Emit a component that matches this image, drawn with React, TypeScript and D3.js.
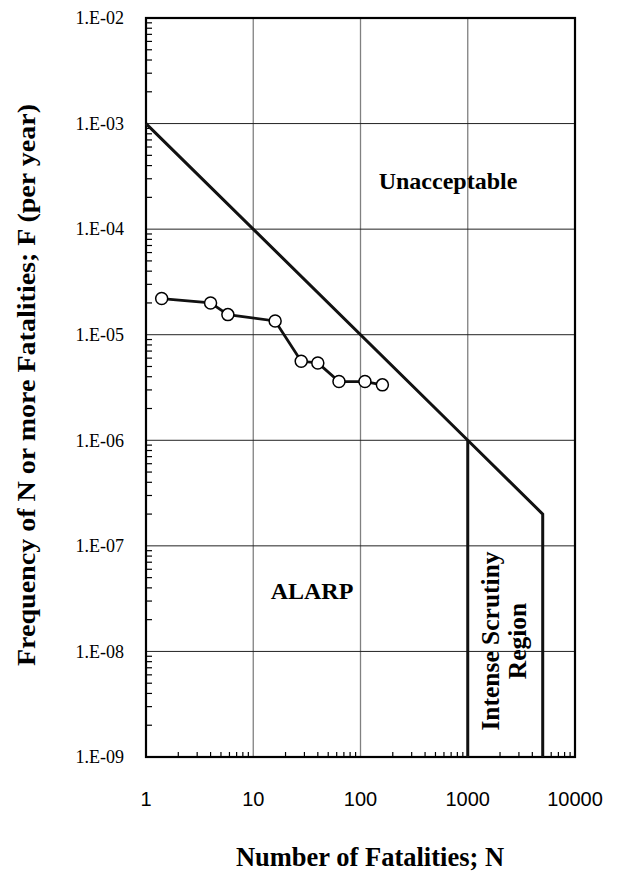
import React from "react";
import * as d3 from "d3";

// F-N curve data (N, F)
const fatalities = [1.4, 4, 5.8, 16, 28, 40, 63, 110, 160];
const frequency = [2.2e-5, 2.0e-5, 1.55e-5, 1.35e-5, 5.6e-6, 5.4e-6, 3.6e-6, 3.6e-6, 3.35e-6];

// criterion line
const critN = [1, 1000, 5000, 5000];
const critF = [1e-3, 1e-6, 2e-7, 1e-9];
const scrutinyN = [1000, 1000];
const scrutinyF = [1e-6, 1e-9];

const xTicks = [1, 10, 100, 1000, 10000];
const yTicks = [1e-2, 1e-3, 1e-4, 1e-5, 1e-6, 1e-7, 1e-8, 1e-9];
const yTickLabels = ["1.E-02", "1.E-03", "1.E-04", "1.E-05", "1.E-06", "1.E-07", "1.E-08", "1.E-09"];

const W = 619;
const H = 871;
const margin = { top: 18, right: 44, bottom: 114, left: 146 };

export default function App() {
  const x = d3.scaleLog().domain([1, 10000]).range([margin.left, W - margin.right]);
  const y = d3.scaleLog().domain([1e-9, 1e-2]).range([H - margin.bottom, margin.top]);
  const x0 = x.range()[0], x1 = x.range()[1];
  const y0 = y.range()[0], y1 = y.range()[1];

  const minorX: number[] = [];
  for (let d = 1; d < 10000; d *= 10) for (let k = 2; k <= 9; k++) minorX.push(d * k);
  const minorY: number[] = [];
  for (let d = 1e-9; d < 1e-2 * 0.99; d *= 10) for (let k = 2; k <= 9; k++) minorY.push(d * k);

  const line = d3.line<[number, number]>().x(d => x(d[0])).y(d => y(d[1]));
  const dataPts: [number, number][] = fatalities.map((n, i) => [n, frequency[i]]);
  const critPts: [number, number][] = critN.map((n, i) => [n, critF[i]]);
  const scrPts: [number, number][] = scrutinyN.map((n, i) => [n, scrutinyF[i]]);

  const serif = "'Liberation Serif', 'Times New Roman', serif";
  const sans = "'Liberation Sans', Arial, sans-serif";

  return (
    <svg width={W} height={H} style={{ position: "absolute", left: 0, top: 0, background: "#fff" }}>
      {/* grid */}
      {xTicks.slice(1, -1).map(t => (
        <line key={"gx" + t} x1={x(t)} x2={x(t)} y1={y1} y2={y0} stroke="#808080" strokeWidth={1.3} />
      ))}
      {yTicks.slice(1, -1).map(t => (
        <line key={"gy" + t} x1={x0} x2={x1} y1={y(t)} y2={y(t)} stroke="#222" strokeWidth={1} />
      ))}
      {/* minor ticks */}
      {minorX.map(t => (
        <line key={"mx" + t} x1={x(t)} x2={x(t)} y1={y0} y2={y0 - 5} stroke="#000" strokeWidth={1.2} />
      ))}
      {minorY.map(t => (
        <line key={"my" + t} x1={x0} x2={x0 + 6} y1={y(t)} y2={y(t)} stroke="#000" strokeWidth={1.2} />
      ))}
      {/* frame */}
      <rect x={x0} y={y1} width={x1 - x0} height={y0 - y1} fill="none" stroke="#000" strokeWidth={2.2} />

      {/* criterion lines */}
      <path d={line(critPts) || ""} fill="none" stroke="#111" strokeWidth={3} />
      <path d={line(scrPts) || ""} fill="none" stroke="#111" strokeWidth={3} />

      {/* data */}
      <path d={line(dataPts) || ""} fill="none" stroke="#111" strokeWidth={2.8} />
      {dataPts.map((d, i) => (
        <circle key={"c" + i} cx={x(d[0])} cy={y(d[1])} r={6} fill="#fff" stroke="#000" strokeWidth={1.5} />
      ))}

      {/* tick labels */}
      {yTicks.map((t, i) => (
        <text key={"yl" + t} x={124} y={y(t)} dy="0.35em" textAnchor="end" fontFamily={serif} fontSize={18}>
          {yTickLabels[i]}
        </text>
      ))}
      {xTicks.map(t => (
        <text key={"xl" + t} x={x(t)} y={799} dy="0.35em" textAnchor="middle" fontFamily={sans} fontSize={20}>
          {t}
        </text>
      ))}

      {/* region labels */}
      <text x={448} y={181} dy="0.35em" textAnchor="middle" fontFamily={serif} fontWeight="bold" fontSize={24}>
        Unacceptable
      </text>
      <text x={312} y={591} dy="0.35em" textAnchor="middle" fontFamily={serif} fontWeight="bold" fontSize={24}>
        ALARP
      </text>
      <g transform="translate(504,641) rotate(-90)">
        <text x={0} y={-13.5} dy="0.35em" textAnchor="middle" fontFamily={serif} fontWeight="bold" fontSize={25.5}>
          Intense Scrutiny
        </text>
        <text x={0} y={13.5} dy="0.35em" textAnchor="middle" fontFamily={serif} fontWeight="bold" fontSize={25.5}>
          Region
        </text>
      </g>

      {/* axis titles */}
      <text x={370} y={857} dy="0.35em" textAnchor="middle" fontFamily={serif} fontWeight="bold" fontSize={26.5}>
        Number of Fatalities; N
      </text>
      <text transform="translate(26,385) rotate(-90)" dy="0.35em" textAnchor="middle" fontFamily={serif} fontWeight="bold" fontSize={26}
        textLength={562} lengthAdjust="spacingAndGlyphs">
        Frequency of N or more Fatalities; F (per year)
      </text>
    </svg>
  );
}
